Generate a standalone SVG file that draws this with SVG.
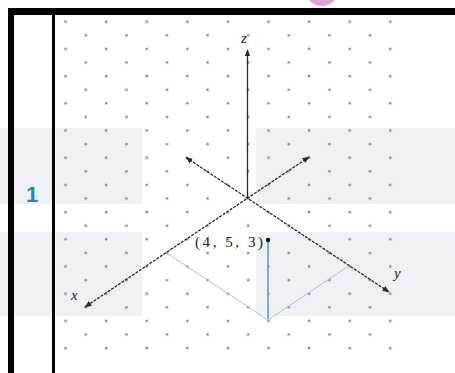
<svg xmlns="http://www.w3.org/2000/svg" width="455" height="373" viewBox="0 0 455 373">
<style>
.band{fill:#e8ebf2;opacity:0.7}
.axis{stroke:#2a2a2a;stroke-width:1.3;fill:none}
.diag{stroke-dasharray:3 1.2}
.lbl{font-family:"Liberation Serif",serif;font-style:italic;font-size:15px;fill:#222}
</style>
<defs>
<pattern id="dots" patternUnits="userSpaceOnUse" x="55.5" y="16.7" width="40.6" height="27.2">
<circle cx="10" cy="5" r="1.3" fill="#8f8f8f"/>
<circle cx="30.3" cy="18.6" r="1.3" fill="#8f8f8f"/>
</pattern>
<marker id="arr" viewBox="0 0 10 10" refX="9" refY="5" markerWidth="5.5" markerHeight="5.5" orient="auto-start-reverse">
<path d="M0,1 L10,5 L0,9 z" fill="#2a2a2a"/>
</marker>
</defs>
<rect width="455" height="373" fill="#fff"/>
<circle cx="322" cy="-11" r="17" fill="#dca3d6"/>
<g id="watermark">
<rect class="band" x="0" y="128" width="142" height="76"/>
<rect class="band" x="256" y="128" width="199" height="76"/>
<rect class="band" x="0" y="232" width="142" height="84"/>
<rect class="band" x="256" y="232" width="199" height="84"/>
</g>
<rect id="grid" x="55.5" y="16.7" width="345" height="338" fill="url(#dots)"/>
<g id="frame" fill="#000">
<rect x="8" y="8" width="447" height="7"/>
<rect x="8" y="8" width="6" height="365"/>
<rect x="52" y="8" width="3" height="365"/>
</g>
<text id="num" x="32" y="202" font-family="Liberation Sans,sans-serif" font-size="22" font-weight="bold" fill="#2d7fc0" text-anchor="middle">1</text>
<g id="connectors">
<line class="axis" x1="247.5" y1="198" x2="247.5" y2="50" marker-end="url(#arr)"/>
<line class="axis diag" x1="186" y1="157.5" x2="389" y2="292" marker-start="url(#arr)" marker-end="url(#arr)"/>
<line class="axis diag" x1="309" y1="157" x2="85" y2="307" marker-start="url(#arr)" marker-end="url(#arr)"/>
<line x1="268" y1="240" x2="268" y2="320" stroke="#64a9e6" stroke-width="1.8"/>
<line x1="268" y1="320" x2="166" y2="252.5" stroke="#a9c3dd" stroke-width="1"/>
<line x1="268" y1="320" x2="348.5" y2="266" stroke="#a9c3dd" stroke-width="1"/>
</g>
<g id="point">
<circle cx="268" cy="240" r="2.2" fill="#111"/>
<text x="195" y="247" font-family="Liberation Serif,serif" font-size="15" fill="#222" textLength="68">(4, 5, 3)</text>
</g>
<g id="labels">
<text class="lbl" x="241" y="43">z</text>
<text class="lbl" x="71" y="300">x</text>
<text class="lbl" x="394" y="278">y</text>
</g>
</svg>
